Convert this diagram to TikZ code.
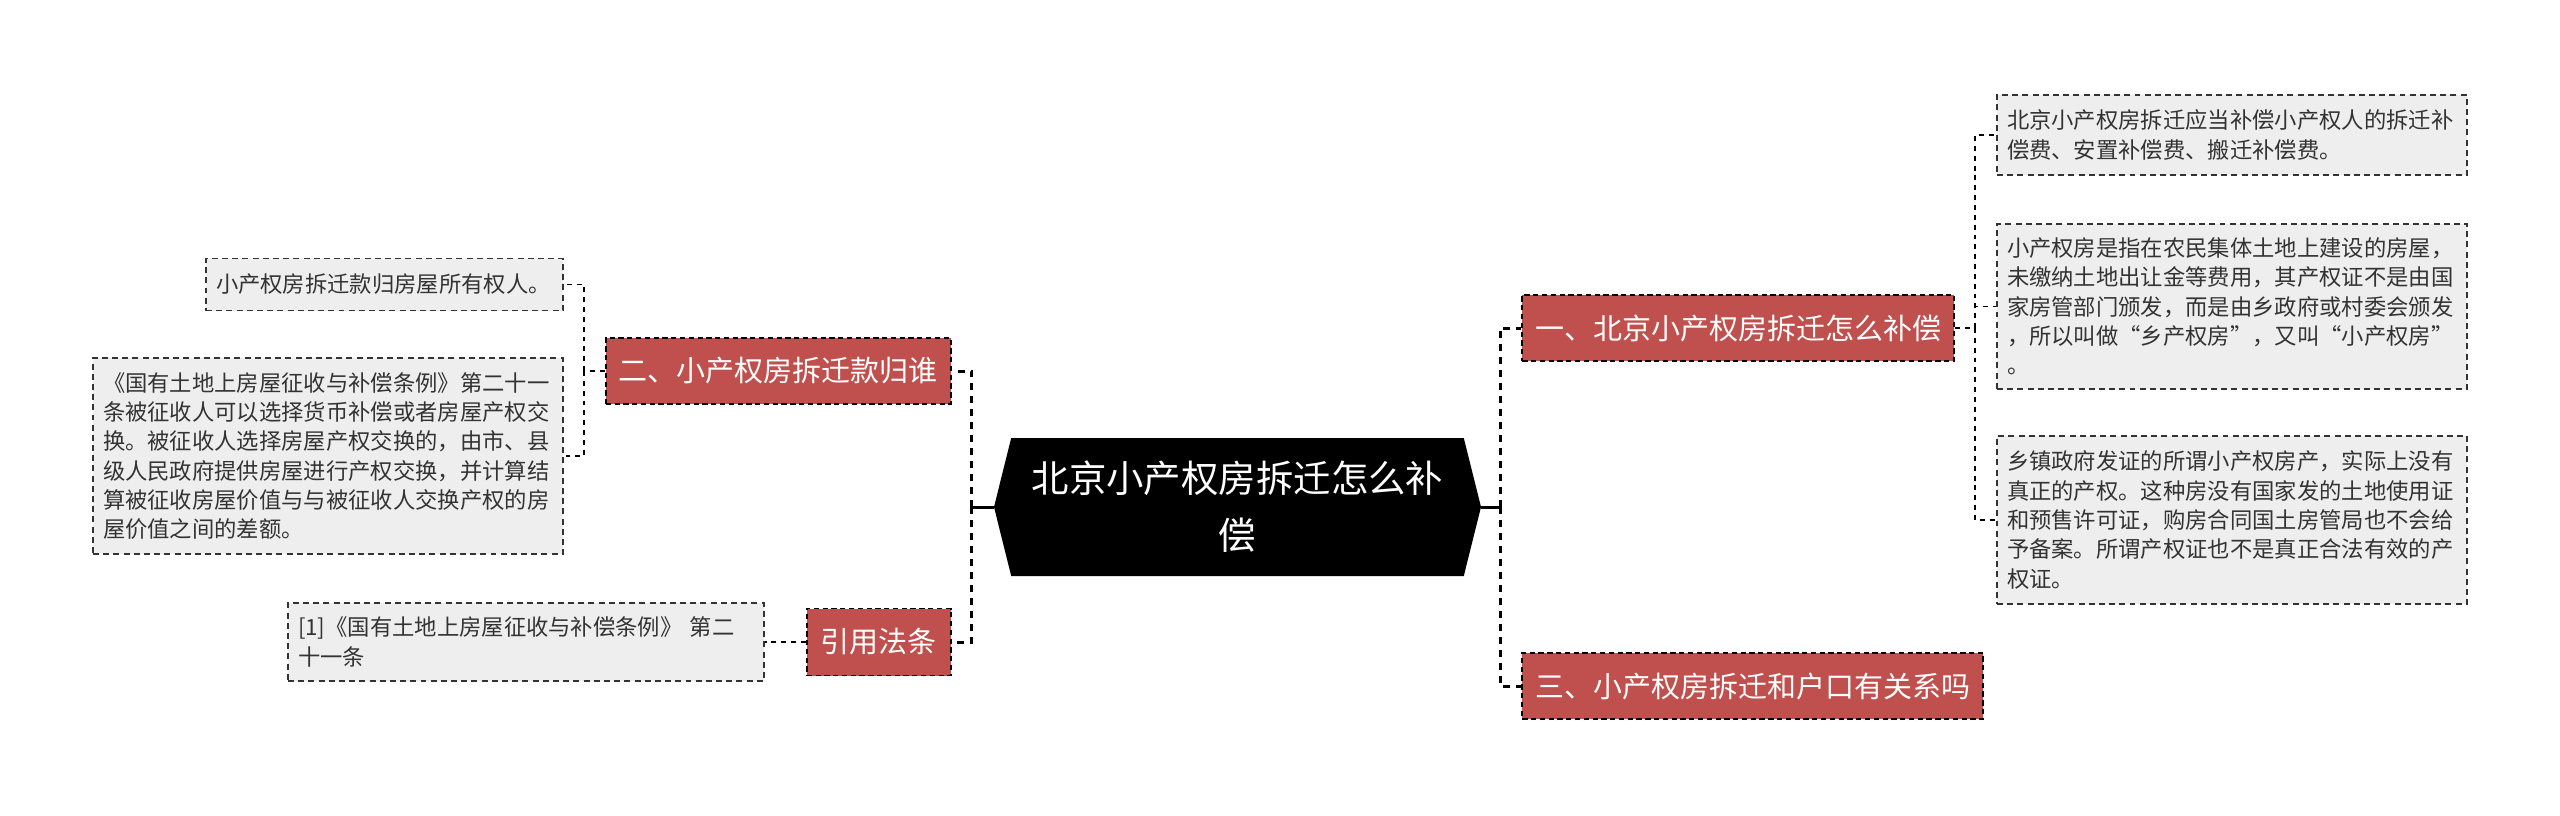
\documentclass[tikz,border=0pt]{standalone}
\usepackage{fontspec}
\setmainfont{Noto Sans CJK SC}
\usepackage{tikz}
\usetikzlibrary{positioning, shapes.symbols}
\usepackage{xcolor}
\definecolor{BranchRed}{HTML}{C0504D}
\definecolor{LeafGray}{HTML}{EEEEEE}
\definecolor{LeafText}{HTML}{333333}

\begin{document}
\begin{tikzpicture}[
    topic/.style={
        shape=signal, signal to=east and west, signal pointer angle=152,
        fill=black, text=white, minimum width=9.74cm, minimum height=2.76cm,
        align=center, inner sep=0pt, font=\fontsize{21.3}{32.4}\selectfont
    },
    branch/.style={
        draw, line width=1pt, dash pattern=on 3pt off 2pt, fill=BranchRed,
        text=white, minimum height=1.32cm, inner sep=0pt,
        font=\fontsize{16.5}{20}\selectfont
    },
    leaf/.style={
        draw=LeafText, line width=1pt, dash pattern=on 3.4pt off 2.4pt,
        fill=LeafGray, text=LeafText, align=left, inner xsep=0.2cm,
        inner ysep=0pt, font=\fontsize{12.7}{16.7}\selectfont
    },
    trunk/.style={line width=1.7pt},
    link/.style={line width=1.7pt, dash pattern=on 4pt off 3.4pt},
    twig/.style={line width=1.1pt, dash pattern=on 2.8pt off 2.8pt},
]

\useasboundingbox (0,0) rectangle (51.2,-16.3);

% =============================================
% CENTRE
% =============================================
\node[topic] (root) at (24.75,-10.14) {北京小产权房拆迁怎么补\\偿};

% =============================================
% RIGHT SIDE
% =============================================
\node[branch, minimum width=8.64cm, right=0.8cm of root, yshift=3.58cm] (howpay) {一、北京小产权房拆迁怎么补偿};
\node[branch, minimum width=9.22cm, right=0.8cm of root, yshift=-3.58cm] (hukou) {三、小产权房拆迁和户口有关系吗};

\node[leaf, text width=9.0cm, minimum height=1.6cm, right=0.82cm of howpay, yshift=3.86cm] (fees)
    {北京小产权房拆迁应当补偿小产权人的拆迁补\\偿费、安置补偿费、搬迁补偿费。};
\node[leaf, text width=9.0cm, minimum height=3.3cm, right=0.82cm of howpay, yshift=0.43cm] (define)
    {小产权房是指在农民集体土地上建设的房屋，\\未缴纳土地出让金等费用，其产权证不是由国\\家房管部门颁发，而是由乡政府或村委会颁发\\，所以叫做“乡产权房”，又叫“小产权房”\\。};
\node[leaf, text width=9.0cm, minimum height=3.36cm, right=0.82cm of howpay, yshift=-3.84cm] (noright)
    {乡镇政府发证的所谓小产权房产，实际上没有\\真正的产权。这种房没有国家发的土地使用证\\和预售许可证，购房合同国土房管局也不会给\\予备案。所谓产权证也不是真正合法有效的产\\权证。};

% =============================================
% LEFT SIDE
% =============================================
\node[branch, minimum width=6.9cm, left=0.84cm of root, yshift=2.72cm] (owner) {二、小产权房拆迁款归谁};
\node[branch, minimum width=2.88cm, minimum height=1.34cm, left=0.84cm of root, yshift=-2.7cm] (law) {引用法条};

\node[leaf, text width=6.74cm, minimum height=1.04cm, left=0.82cm of owner, yshift=1.73cm] (ownerA)
    {小产权房拆迁款归房屋所有权人。};
\node[leaf, text width=9.0cm, minimum height=3.92cm, left=0.82cm of owner, yshift=-1.7cm] (ownerB)
    {《国有土地上房屋征收与补偿条例》第二十一\\条被征收人可以选择货币补偿或者房屋产权交\\换。被征收人选择房屋产权交换的，由市、县\\级人民政府提供房屋进行产权交换，并计算结\\算被征收房屋价值与与被征收人交换产权的房\\屋价值之间的差额。};
\node[leaf, text width=9.12cm, minimum height=1.56cm, left=0.82cm of law] (cite)
    {[1]《国有土地上房屋征收与补偿条例》 第二\\十一条};

% =============================================
% CONNECTORS
% =============================================
\draw[trunk] (root.east) -- ++(0.38,0) coordinate (rj);
\draw[link] (rj) |- (howpay.west);
\draw[link] (rj) |- (hukou.west);

\draw[trunk] (root.west) -- ++(-0.44,0) coordinate (lj);
\draw[link] (lj) |- (owner.east);
\draw[link] (lj) |- (law.east);

\draw[twig] (howpay.east) -- ++(0.4,0) coordinate (hj);
\draw[twig] (hj) |- (fees.west);
\draw[twig] (hj) |- (define.west);
\draw[twig] (hj) |- (noright.west);

\draw[twig] (owner.west) -- ++(-0.42,0) coordinate (oj);
\draw[twig] (oj) |- (ownerA.east);
\draw[twig] (oj) |- (ownerB.east);

\draw[twig] (law.west) -- (cite.east);

\end{tikzpicture}
\end{document}
